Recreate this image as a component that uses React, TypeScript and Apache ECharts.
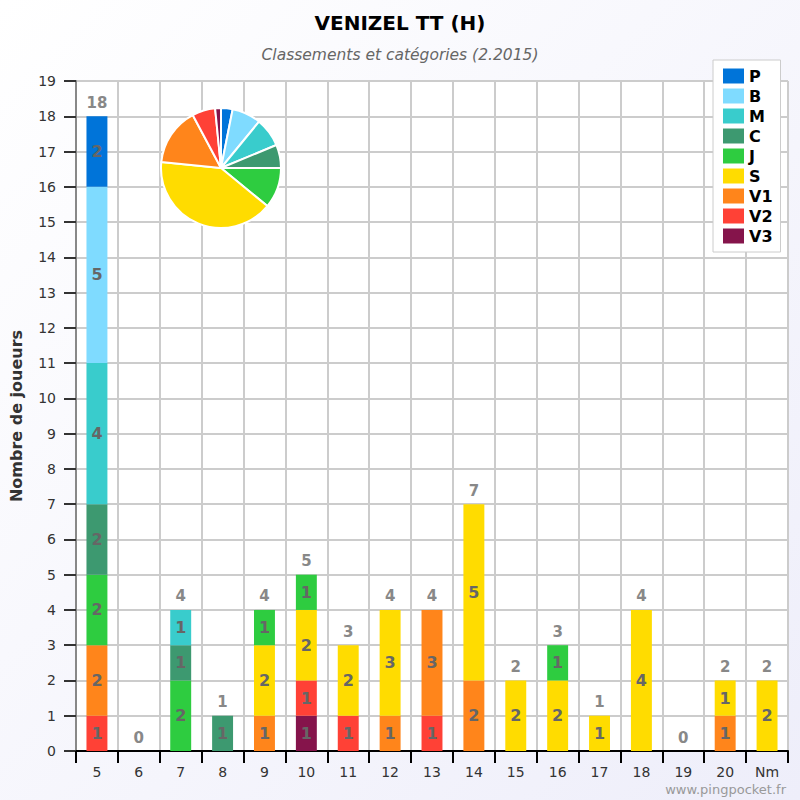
import React, { useEffect, useRef } from "react";
import * as echarts from "echarts";

const categories = ["5", "6", "7", "8", "9", "10", "11", "12", "13", "14", "15", "16", "17", "18", "19", "20", "Nm"];
const seriesNames = ["P", "B", "M", "C", "J", "S", "V1", "V2", "V3"];
const seriesColors = ["#0074D9", "#7FDBFF", "#39CCCC", "#3D9970", "#2ECC40", "#FFDC00", "#FF851B", "#FF4136", "#85144B"];
const P = [2, 0, 0, 0, 0, 0, 0, 0, 0, 0, 0, 0, 0, 0, 0, 0, 0];
const B = [5, 0, 0, 0, 0, 0, 0, 0, 0, 0, 0, 0, 0, 0, 0, 0, 0];
const M = [4, 0, 1, 0, 0, 0, 0, 0, 0, 0, 0, 0, 0, 0, 0, 0, 0];
const C = [2, 0, 1, 1, 0, 0, 0, 0, 0, 0, 0, 0, 0, 0, 0, 0, 0];
const J = [2, 0, 2, 0, 1, 1, 0, 0, 0, 0, 0, 1, 0, 0, 0, 0, 0];
const S = [0, 0, 0, 0, 2, 2, 2, 3, 0, 5, 2, 2, 1, 4, 0, 1, 2];
const V1 = [2, 0, 0, 0, 1, 0, 0, 1, 3, 2, 0, 0, 0, 0, 0, 1, 0];
const V2 = [1, 0, 0, 0, 0, 1, 1, 0, 1, 0, 0, 0, 0, 0, 0, 0, 0];
const V3 = [0, 0, 0, 0, 0, 1, 0, 0, 0, 0, 0, 0, 0, 0, 0, 0, 0];
const yTicks = [0, 19];

const FONT = "DejaVu Sans";

export default function App() {
  const ref = useRef<HTMLDivElement>(null);
  useEffect(() => {
    document.body.style.margin = "0";
    const chart = echarts.init(ref.current!, undefined, { renderer: "svg" });
    const values: Record<string, number[]> = { P, B, M, C, J, S, V1, V2, V3 };
    const stackOrder = ["V3", "V2", "V1", "S", "J", "C", "M", "B", "P"];
    const totals = categories.map((_, i) => seriesNames.reduce((s, n) => s + values[n][i], 0));

    const barSeries: any[] = stackOrder.map((n) => ({
      type: "bar",
      name: n,
      stack: "all",
      barWidth: "50%",
      data: values[n],
      itemStyle: { color: seriesColors[seriesNames.indexOf(n)] },
      label: {
        show: true,
        position: "inside",
        fontFamily: FONT,
        fontSize: 16,
        fontWeight: "bold",
        color: "#666",
        formatter: (p: any) => (p.value ? String(p.value) : ""),
      },
    }));
    barSeries.push({
      type: "bar",
      name: "total",
      stack: "all",
      barWidth: "50%",
      data: categories.map(() => 0),
      itemStyle: { color: "transparent" },
      label: {
        show: true,
        position: "top",
        distance: 6,
        fontFamily: FONT,
        fontSize: 15,
        fontWeight: "bold",
        color: "#888",
        formatter: (p: any) => String(totals[p.dataIndex]),
      },
    });

    chart.setOption({
      animation: false,
      backgroundColor: {
        type: "linear", x: 0, y: 0, x2: 1, y2: 1,
        colorStops: [{ offset: 0, color: "#ffffff" }, { offset: 1, color: "#eeeefa" }],
      },
      textStyle: { fontFamily: FONT },
      title: {
        text: "VENIZEL TT (H)",
        subtext: "Classements et catégories (2.2015)",
        left: "center",
        top: 8,
        itemGap: 14,
        textStyle: { fontFamily: FONT, fontSize: 20, fontWeight: "bold", color: "#000" },
        subtextStyle: { fontFamily: FONT, fontSize: 15.5, fontStyle: "italic", color: "#666" },
      },
      legend: {
        data: seriesNames,
        orient: "vertical",
        left: 713,
        top: 60,
        padding: [8, 8, 8, 10],
        itemWidth: 21,
        itemHeight: 15,
        itemGap: 4,
        backgroundColor: "#fff",
        borderColor: "#ccc",
        borderWidth: 1,
        icon: "rect",
        textStyle: { fontFamily: FONT, fontSize: 16, lineHeight: 16, fontWeight: "bold", color: "#000" },
      },
      grid: {
        left: 74,
        right: 12,
        top: 81,
        bottom: 49,
        show: true,
        backgroundColor: "#fff",
        borderWidth: 0,
        containLabel: false,
      },
      xAxis: {
        type: "category",
        data: categories,
        axisLine: { lineStyle: { color: "#000", width: 2 } },
        axisTick: { show: true, length: 12, lineStyle: { color: "#000", width: 2 } },
        axisLabel: { fontFamily: FONT, fontSize: 14, color: "#333", margin: 14 },
        splitLine: { show: true, lineStyle: { color: "#ccc", width: 2 } },
      },
      yAxis: {
        type: "value",
        min: yTicks[0],
        max: yTicks[1],
        interval: 1,
        name: "Nombre de joueurs",
        nameLocation: "middle",
        nameGap: 52,
        nameTextStyle: { fontFamily: FONT, fontSize: 16, fontWeight: "bold", color: "#333" },
        axisLine: { show: true, lineStyle: { color: "#888", width: 2 } },
        axisTick: { show: true, length: 12, lineStyle: { color: "#333", width: 2 } },
        axisLabel: { fontFamily: FONT, fontSize: 14, color: "#333", margin: 20 },
        splitLine: { show: true, lineStyle: { color: "#ccc", width: 2 } },
      },
      series: [
        ...barSeries,
        {
          type: "pie",
          name: "pie",
          center: [221, 168],
          radius: 60,
          startAngle: 90,
          clockwise: true,
          label: { show: false },
          labelLine: { show: false },
          itemStyle: { borderColor: "#fff", borderWidth: 2 },
          data: seriesNames.map((n, i) => ({
            name: n,
            value: values[n].reduce((a, b) => a + b, 0),
            itemStyle: { color: seriesColors[i] },
          })),
        },
      ],
      graphic: [
        {
          type: "text",
          right: 14,
          bottom: 4,
          style: { text: "www.pingpocket.fr", fontFamily: FONT, fontSize: 13, fill: "#999" },
        },
      ],
    });
    return () => chart.dispose();
  }, []);
  return <div ref={ref} style={{ width: 800, height: 800 }} />;
}
